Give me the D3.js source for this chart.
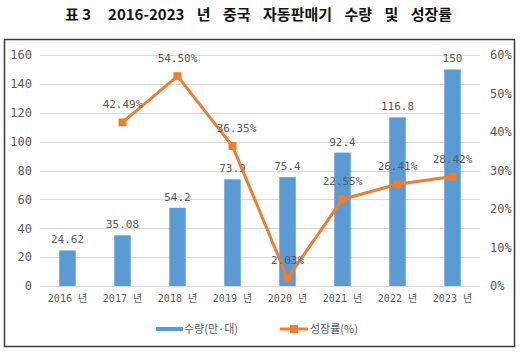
<!DOCTYPE html>
<html><head><meta charset="utf-8">
<script src="https://cdn.jsdelivr.net/npm/d3@7"></script>
<style>
html,body{margin:0;padding:0;background:#fff;}
svg{display:block;}
</style></head>
<body>
<svg id="chart" width="522" height="353"></svg>
<script>
const categories = ["2016 년","2017 년","2018 년","2019 년","2020 년","2021 년","2022 년","2023 년"];
const quantity = [24.62, 35.08, 54.2, 73.9, 75.4, 92.4, 116.8, 150];
const quantityLabels = ["24.62","35.08","54.2","73.9","75.4","92.4","116.8","150"];
const growth = [null, 42.49, 54.50, 36.35, 2.03, 22.55, 26.41, 28.42];
const growthLabels = [null, "42.49%","54.50%","36.35%","2.03%","22.55%","26.41%","28.42%"];
const leftTicks = [0,20,40,60,80,100,120,140,160];
const rightTicks = [0,10,20,30,40,50,60];
const titleLead = "표 3";
const titleMain = "2016-2023 년 중국 자동판매기 수량 및 성장률";
const legendNames = ["수량(만·대)", "성장률(%)"];

const svg = d3.select("#chart");
const BLUE = "#5B9BD5", ORANGE = "#ED7D31", GRAY = "#595959";
const monoFont = "'DejaVu Sans Mono', 'Noto Sans CJK KR', monospace";

const plot = {left: 40, right: 480, top: 55, bottom: 286};

const x = d3.scaleBand().domain(categories).range([plot.left, plot.right]).paddingInner(0.7).paddingOuter(0.35);
const yL = d3.scaleLinear().domain([0,160]).range([plot.bottom, plot.top]);
const yR = d3.scaleLinear().domain([0,60]).range([plot.bottom, plot.top]);

// border
svg.append("rect").attr("x",4.5).attr("y",39.5).attr("width",510).attr("height",307)
  .attr("fill","none").attr("stroke","#3a3a3a").attr("stroke-width",1.5);

// title
const t = svg.append("text").attr("x",65).attr("y",20)
  .attr("font-family","'Noto Sans CJK KR', sans-serif").attr("font-weight","bold")
  .attr("font-size",15).attr("fill","#111");
t.append("tspan").text(titleLead);
t.append("tspan").attr("dx",17).attr("word-spacing",9).text(titleMain);

// gridlines
svg.append("g").selectAll("line").data(leftTicks).join("line")
  .attr("x1",plot.left).attr("x2",plot.right)
  .attr("y1",d=>Math.round(yL(d))+0.5).attr("y2",d=>Math.round(yL(d))+0.5)
  .attr("stroke","#D9D9D9").attr("stroke-width",1);

// left axis
const leftAxis = svg.append("g").attr("transform",`translate(${plot.left},0)`)
  .call(d3.axisLeft(yL).tickValues(leftTicks).tickSize(0).tickPadding(8));
leftAxis.select(".domain").remove();
leftAxis.selectAll("text").attr("font-family",monoFont).attr("font-size",12).attr("fill",GRAY);

// right axis
const rightAxis = svg.append("g").attr("transform",`translate(${plot.right},0)`)
  .call(d3.axisRight(yR).tickValues(rightTicks).tickSize(0).tickPadding(10).tickFormat(d=>d+"%"));
rightAxis.select(".domain").remove();
rightAxis.selectAll("text").attr("font-family",monoFont).attr("font-size",12).attr("fill",GRAY);

// x axis
const xAxis = svg.append("g").attr("transform",`translate(0,${plot.bottom})`)
  .call(d3.axisBottom(x).tickSize(0).tickPadding(9));
xAxis.select(".domain").remove();
xAxis.selectAll("text").attr("font-family",monoFont).attr("font-size",10).attr("fill",GRAY);

// bars
svg.append("g").selectAll("rect").data(quantity).join("rect")
  .attr("x",(d,i)=>x(categories[i])).attr("width",x.bandwidth())
  .attr("y",d=>yL(d)).attr("height",d=>yL(0)-yL(d)).attr("fill",BLUE);

// bar labels
svg.append("g").selectAll("text").data(quantity).join("text")
  .attr("x",(d,i)=>x(categories[i])+x.bandwidth()/2).attr("y",d=>yL(d)-7)
  .attr("text-anchor","middle").attr("font-family",monoFont).attr("font-size",11).attr("fill",GRAY)
  .text((d,i)=>quantityLabels[i]);

// line
const pts = growth.map((g,i)=>({g,i})).filter(d=>d.g!==null);
const line = d3.line().x(d=>x(categories[d.i])+x.bandwidth()/2).y(d=>yR(d.g));
svg.append("path").datum(pts).attr("d",line).attr("fill","none")
  .attr("stroke",ORANGE).attr("stroke-width",3).attr("stroke-linejoin","round");
svg.append("g").selectAll("rect").data(pts).join("rect")
  .attr("x",d=>x(categories[d.i])+x.bandwidth()/2-4).attr("y",d=>yR(d.g)-4)
  .attr("width",8).attr("height",8).attr("fill",ORANGE);
svg.append("g").selectAll("text").data(pts).join("text")
  .attr("x",d=>x(categories[d.i])+x.bandwidth()/2+(d.i===3?4:0)).attr("y",d=>yR(d.g)-14)
  .attr("text-anchor","middle").attr("font-family",monoFont).attr("font-size",11).attr("fill",GRAY)
  .text(d=>growthLabels[d.i]);

// legend
const lg = svg.append("g");
lg.append("rect").attr("x",156).attr("y",327).attr("width",27).attr("height",4).attr("fill",BLUE);
lg.append("text").attr("x",184).attr("y",333).attr("font-family","'Noto Sans CJK KR', sans-serif")
  .attr("font-size",11).attr("fill",GRAY).text(legendNames[0]);
lg.append("line").attr("x1",280).attr("x2",308).attr("y1",329).attr("y2",329).attr("stroke",ORANGE).attr("stroke-width",3);
lg.append("rect").attr("x",290).attr("y",325).attr("width",8).attr("height",8).attr("fill",ORANGE);
lg.append("text").attr("x",310).attr("y",333).attr("font-family","'Noto Sans CJK KR', sans-serif")
  .attr("font-size",11).attr("fill",GRAY).text(legendNames[1]);
</script>
</body></html>
